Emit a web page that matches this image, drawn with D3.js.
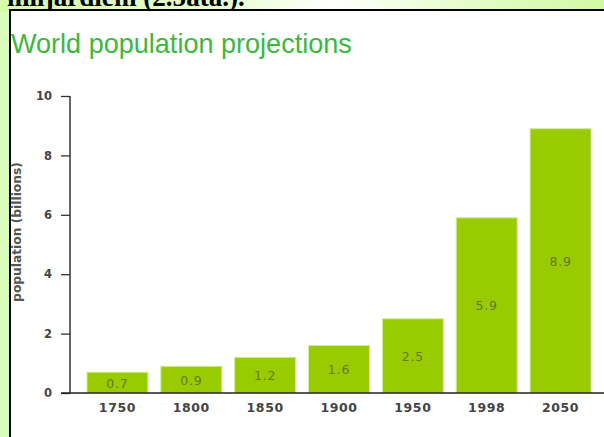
<!DOCTYPE html>
<html><head><meta charset="utf-8">
<script src="https://cdn.jsdelivr.net/npm/d3@7"></script>
<style>
html,body{margin:0;padding:0;background:#dbfdbb;overflow:hidden;}
svg{display:block;}
</style></head>
<body>
<svg id="chart" width="604" height="437"></svg>
<script>
const years = ["1750","1800","1850","1900","1950","1998","2050"];
const population = [0.7, 0.9, 1.2, 1.6, 2.5, 5.9, 8.9];
const valueLabels = ["0.7","0.9","1.2","1.6","2.5","5.9","8.9"];
const yTicks = [0, 2, 4, 6, 8, 10];
const titleText = "World population projections";
const yTitle = "population (billions)";
const topText = "miljardiem (2.5ata.).";

const svg = d3.select("#chart");
const defs = svg.append("defs");
const g = defs.append("linearGradient").attr("id","topg").attr("x1","0").attr("x2","1").attr("y1","0").attr("y2","0");
g.append("stop").attr("offset","0").attr("stop-color","#d6fca8");
g.append("stop").attr("offset","0.35").attr("stop-color","#e6fdcc");
g.append("stop").attr("offset","0.55").attr("stop-color","#ffffff");
g.append("stop").attr("offset","0.8").attr("stop-color","#e2fcc4");
g.append("stop").attr("offset","1").attr("stop-color","#d2f9a2");

svg.append("rect").attr("x",0).attr("y",0).attr("width",604).attr("height",12).attr("fill","url(#topg)");
const tt = svg.append("text").attr("x",7).attr("y",6)
  .attr("font-family","'Liberation Serif', serif").attr("font-weight","bold")
  .attr("font-size",24).attr("fill","#000").text(topText);
const ttw = tt.node().getComputedTextLength();
tt.attr("font-size", 24 * 238 / ttw);

// framed white panel
svg.append("rect").attr("x",10).attr("y",10).attr("width",600).attr("height",440)
  .attr("fill","#fff").attr("stroke","#000").attr("stroke-width",2);

// title
const t = svg.append("text").attr("x",11).attr("y",53)
  .attr("font-family","'Liberation Sans', Arial, sans-serif")
  .attr("font-size",25).attr("fill","#3cb83c").text(titleText);
const tw = t.node().getComputedTextLength();
t.attr("font-size", 25 * 341 / tw);

const y = d3.scaleLinear().domain([0,10]).range([393,96]);
const x = d3.scaleBand().domain(years).range([70,608]).paddingInner(0.175).paddingOuter(0.23);

const labelFont = "'DejaVu Sans', Verdana, sans-serif";

// bars
const bars = svg.append("g");
bars.selectAll("rect").data(population).join("rect")
  .attr("x",(d,i)=>x(years[i]))
  .attr("y",d=>y(d))
  .attr("width",x.bandwidth())
  .attr("height",d=>y(0)-y(d))
  .attr("fill","#99cc00")
  .attr("stroke","#d2ec98").attr("stroke-width",1);

bars.selectAll("text").data(population).join("text")
  .attr("x",(d,i)=>x(years[i])+x.bandwidth()/2)
  .attr("y",d=>(y(d)+y(0))/2+5)
  .attr("text-anchor","middle")
  .attr("font-family",labelFont)
  .attr("font-size",12.5).attr("letter-spacing",0.8).attr("fill","#667733")
  .text((d,i)=>valueLabels[i]);

// y axis
const yAxis = d3.axisLeft(y).tickValues(yTicks).tickSize(9).tickPadding(9).tickFormat(d3.format("d"));
const ya = svg.append("g").attr("transform","translate(70,0)").call(yAxis);
ya.select(".domain").attr("stroke","#333").attr("stroke-width",1.5).attr("d","M0,96V393");
ya.selectAll(".tick line").attr("stroke","#333").attr("stroke-width",1.3);
ya.selectAll(".tick text").attr("font-family",labelFont)
  .attr("font-weight","bold").attr("font-size",11.5).attr("fill","#444");

// x axis
const xAxis = d3.axisBottom(x).tickSize(0).tickPadding(10);
const xa = svg.append("g").attr("transform","translate(0,393)").call(xAxis);
xa.select(".domain").attr("stroke","#222").attr("stroke-width",1.5).attr("d","M61,0H604");
xa.selectAll(".tick text").attr("font-family",labelFont)
  .attr("font-weight","bold").attr("font-size",12.5).attr("letter-spacing",0.6).attr("fill","#444");

// y title
const yt = svg.append("text").attr("transform","translate(21,232) rotate(-90)")
  .attr("text-anchor","middle")
  .attr("font-family",labelFont)
  .attr("font-weight","bold").attr("font-size",10).attr("fill","#555")
  .text(yTitle);
const ytw = yt.node().getComputedTextLength();
yt.attr("font-size", 10 * 140 / ytw);
</script>
</body></html>
